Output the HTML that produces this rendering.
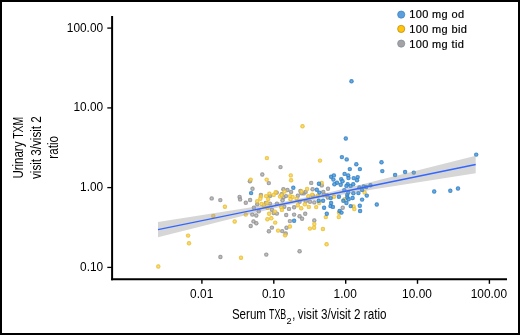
<!DOCTYPE html>
<html><head><meta charset="utf-8"><style>
html,body{margin:0;padding:0;background:#fff;}
.wrap{position:relative;width:516px;height:331px;border:2px solid #000;overflow:hidden;background:#fff;}
svg{position:absolute;left:-2px;top:-2px;will-change:transform;}
text{font-family:"Liberation Sans",sans-serif;fill:#000;}
.lg{font-size:11px;letter-spacing:0.35px;stroke:#000;stroke-width:0.2px;}
</style></head><body><div class="wrap">
<svg width="520" height="335" viewBox="0 0 520 335">
<defs><radialGradient id="gb"><stop offset="0" stop-color="#6aa8e0" stop-opacity="0.85"/><stop offset="0.45" stop-color="#3a8fd4" stop-opacity="0.88"/><stop offset="1" stop-color="#2a78be" stop-opacity="0.9"/></radialGradient><radialGradient id="gy"><stop offset="0" stop-color="#f8e08a" stop-opacity="0.85"/><stop offset="0.45" stop-color="#f3ca3e" stop-opacity="0.88"/><stop offset="1" stop-color="#e6b92a" stop-opacity="0.9"/></radialGradient><radialGradient id="gg"><stop offset="0" stop-color="#c4c4c4" stop-opacity="0.85"/><stop offset="0.45" stop-color="#a0a0a0" stop-opacity="0.88"/><stop offset="1" stop-color="#8a8a8a" stop-opacity="0.9"/></radialGradient></defs>
<g class="dots">
<circle cx="220.4" cy="257.0" r="2.2" fill="url(#gg)"/>
<circle cx="211.7" cy="198.4" r="2.2" fill="url(#gg)"/>
<circle cx="220.3" cy="200.1" r="2.2" fill="url(#gg)"/>
<circle cx="239.6" cy="196.9" r="2.2" fill="url(#gg)"/>
<circle cx="240.1" cy="199.4" r="2.2" fill="url(#gg)"/>
<circle cx="280.5" cy="167.1" r="2.2" fill="url(#gg)"/>
<circle cx="262.3" cy="174.5" r="2.2" fill="url(#gg)"/>
<circle cx="249.9" cy="181.2" r="2.2" fill="url(#gg)"/>
<circle cx="268.8" cy="183.1" r="2.2" fill="url(#gg)"/>
<circle cx="252.5" cy="188.8" r="2.2" fill="url(#gg)"/>
<circle cx="260.9" cy="194.9" r="2.2" fill="url(#gg)"/>
<circle cx="270.0" cy="195.9" r="2.2" fill="url(#gg)"/>
<circle cx="276.7" cy="192.6" r="2.2" fill="url(#gg)"/>
<circle cx="283.4" cy="189.2" r="2.2" fill="url(#gg)"/>
<circle cx="245.8" cy="202.8" r="2.2" fill="url(#gg)"/>
<circle cx="250.1" cy="200.0" r="2.2" fill="url(#gg)"/>
<circle cx="257.2" cy="204.2" r="2.2" fill="url(#gg)"/>
<circle cx="265.8" cy="203.0" r="2.2" fill="url(#gg)"/>
<circle cx="270.0" cy="203.6" r="2.2" fill="url(#gg)"/>
<circle cx="253.9" cy="207.7" r="2.2" fill="url(#gg)"/>
<circle cx="276.9" cy="203.6" r="2.2" fill="url(#gg)"/>
<circle cx="271.9" cy="209.7" r="2.2" fill="url(#gg)"/>
<circle cx="273.7" cy="213.1" r="2.2" fill="url(#gg)"/>
<circle cx="276.9" cy="213.6" r="2.2" fill="url(#gg)"/>
<circle cx="258.8" cy="211.3" r="2.2" fill="url(#gg)"/>
<circle cx="252.3" cy="214.6" r="2.2" fill="url(#gg)"/>
<circle cx="256.3" cy="215.5" r="2.2" fill="url(#gg)"/>
<circle cx="253.5" cy="221.4" r="2.2" fill="url(#gg)"/>
<circle cx="256.3" cy="223.2" r="2.2" fill="url(#gg)"/>
<circle cx="250.7" cy="226.0" r="2.2" fill="url(#gg)"/>
<circle cx="271.9" cy="227.6" r="2.2" fill="url(#gg)"/>
<circle cx="268.9" cy="231.2" r="2.2" fill="url(#gg)"/>
<circle cx="282.2" cy="231.1" r="2.2" fill="url(#gg)"/>
<circle cx="311.2" cy="182.9" r="2.2" fill="url(#gg)"/>
<circle cx="321.7" cy="185.4" r="2.2" fill="url(#gg)"/>
<circle cx="287.4" cy="190.0" r="2.2" fill="url(#gg)"/>
<circle cx="291.1" cy="191.9" r="2.2" fill="url(#gg)"/>
<circle cx="300.4" cy="191.0" r="2.2" fill="url(#gg)"/>
<circle cx="303.8" cy="193.4" r="2.2" fill="url(#gg)"/>
<circle cx="305.6" cy="191.9" r="2.2" fill="url(#gg)"/>
<circle cx="312.6" cy="189.2" r="2.2" fill="url(#gg)"/>
<circle cx="281.7" cy="194.3" r="2.2" fill="url(#gg)"/>
<circle cx="297.8" cy="195.8" r="2.2" fill="url(#gg)"/>
<circle cx="286.0" cy="196.1" r="2.2" fill="url(#gg)"/>
<circle cx="323.3" cy="192.0" r="2.2" fill="url(#gg)"/>
<circle cx="328.0" cy="188.8" r="2.2" fill="url(#gg)"/>
<circle cx="312.8" cy="195.4" r="2.2" fill="url(#gg)"/>
<circle cx="323.9" cy="194.6" r="2.2" fill="url(#gg)"/>
<circle cx="327.1" cy="195.3" r="2.2" fill="url(#gg)"/>
<circle cx="283.4" cy="197.5" r="2.2" fill="url(#gg)"/>
<circle cx="282.5" cy="200.3" r="2.2" fill="url(#gg)"/>
<circle cx="301.5" cy="193.2" r="2.2" fill="url(#gg)"/>
<circle cx="299.6" cy="201.8" r="2.2" fill="url(#gg)"/>
<circle cx="305.8" cy="201.2" r="2.2" fill="url(#gg)"/>
<circle cx="310.0" cy="201.8" r="2.2" fill="url(#gg)"/>
<circle cx="314.3" cy="202.4" r="2.2" fill="url(#gg)"/>
<circle cx="294.1" cy="207.3" r="2.2" fill="url(#gg)"/>
<circle cx="289.0" cy="208.9" r="2.2" fill="url(#gg)"/>
<circle cx="284.3" cy="206.7" r="2.2" fill="url(#gg)"/>
<circle cx="286.2" cy="215.0" r="2.2" fill="url(#gg)"/>
<circle cx="294.1" cy="214.6" r="2.2" fill="url(#gg)"/>
<circle cx="305.2" cy="213.8" r="2.2" fill="url(#gg)"/>
<circle cx="299.6" cy="216.2" r="2.2" fill="url(#gg)"/>
<circle cx="302.1" cy="218.7" r="2.2" fill="url(#gg)"/>
<circle cx="289.9" cy="221.1" r="2.2" fill="url(#gg)"/>
<circle cx="286.5" cy="227.7" r="2.2" fill="url(#gg)"/>
<circle cx="314.3" cy="220.4" r="2.2" fill="url(#gg)"/>
<circle cx="327.8" cy="197.5" r="2.2" fill="url(#gg)"/>
<circle cx="342.7" cy="207.7" r="2.2" fill="url(#gg)"/>
<circle cx="266.3" cy="254.6" r="2.2" fill="url(#gg)"/>
<circle cx="285.7" cy="233.5" r="2.2" fill="url(#gg)"/>
<circle cx="299.6" cy="251.2" r="2.2" fill="url(#gg)"/>
<circle cx="188.1" cy="235.6" r="2.2" fill="url(#gy)"/>
<circle cx="189.0" cy="243.3" r="2.2" fill="url(#gy)"/>
<circle cx="158.3" cy="266.5" r="2.2" fill="url(#gy)"/>
<circle cx="224.9" cy="206.7" r="2.2" fill="url(#gy)"/>
<circle cx="213.3" cy="216.0" r="2.2" fill="url(#gy)"/>
<circle cx="234.7" cy="221.5" r="2.2" fill="url(#gy)"/>
<circle cx="302.5" cy="126.3" r="2.2" fill="url(#gy)"/>
<circle cx="266.9" cy="158.1" r="2.2" fill="url(#gy)"/>
<circle cx="320.0" cy="160.6" r="2.2" fill="url(#gy)"/>
<circle cx="250.7" cy="179.6" r="2.2" fill="url(#gy)"/>
<circle cx="266.7" cy="179.6" r="2.2" fill="url(#gy)"/>
<circle cx="260.9" cy="196.4" r="2.2" fill="url(#gy)"/>
<circle cx="266.1" cy="196.1" r="2.2" fill="url(#gy)"/>
<circle cx="269.4" cy="193.7" r="2.2" fill="url(#gy)"/>
<circle cx="273.7" cy="194.9" r="2.2" fill="url(#gy)"/>
<circle cx="275.7" cy="192.3" r="2.2" fill="url(#gy)"/>
<circle cx="280.0" cy="196.6" r="2.2" fill="url(#gy)"/>
<circle cx="257.2" cy="201.2" r="2.2" fill="url(#gy)"/>
<circle cx="260.3" cy="198.7" r="2.2" fill="url(#gy)"/>
<circle cx="261.5" cy="204.0" r="2.2" fill="url(#gy)"/>
<circle cx="268.2" cy="199.1" r="2.2" fill="url(#gy)"/>
<circle cx="267.0" cy="203.0" r="2.2" fill="url(#gy)"/>
<circle cx="263.9" cy="205.5" r="2.2" fill="url(#gy)"/>
<circle cx="281.7" cy="195.1" r="2.2" fill="url(#gy)"/>
<circle cx="281.1" cy="206.9" r="2.2" fill="url(#gy)"/>
<circle cx="281.9" cy="209.9" r="2.2" fill="url(#gy)"/>
<circle cx="267.6" cy="207.9" r="2.2" fill="url(#gy)"/>
<circle cx="269.1" cy="213.8" r="2.2" fill="url(#gy)"/>
<circle cx="274.9" cy="211.6" r="2.2" fill="url(#gy)"/>
<circle cx="245.8" cy="214.6" r="2.2" fill="url(#gy)"/>
<circle cx="267.4" cy="219.2" r="2.2" fill="url(#gy)"/>
<circle cx="271.3" cy="218.3" r="2.2" fill="url(#gy)"/>
<circle cx="275.2" cy="222.6" r="2.2" fill="url(#gy)"/>
<circle cx="278.1" cy="230.6" r="2.2" fill="url(#gy)"/>
<circle cx="290.8" cy="175.4" r="2.2" fill="url(#gy)"/>
<circle cx="291.1" cy="180.3" r="2.2" fill="url(#gy)"/>
<circle cx="321.7" cy="183.0" r="2.2" fill="url(#gy)"/>
<circle cx="284.6" cy="191.5" r="2.2" fill="url(#gy)"/>
<circle cx="301.5" cy="191.5" r="2.2" fill="url(#gy)"/>
<circle cx="307.1" cy="188.9" r="2.2" fill="url(#gy)"/>
<circle cx="290.1" cy="196.1" r="2.2" fill="url(#gy)"/>
<circle cx="292.6" cy="196.9" r="2.2" fill="url(#gy)"/>
<circle cx="308.3" cy="196.3" r="2.2" fill="url(#gy)"/>
<circle cx="312.2" cy="194.6" r="2.2" fill="url(#gy)"/>
<circle cx="317.6" cy="195.8" r="2.2" fill="url(#gy)"/>
<circle cx="334.0" cy="196.7" r="2.2" fill="url(#gy)"/>
<circle cx="344.5" cy="199.2" r="2.2" fill="url(#gy)"/>
<circle cx="364.6" cy="192.5" r="2.2" fill="url(#gy)"/>
<circle cx="290.5" cy="199.3" r="2.2" fill="url(#gy)"/>
<circle cx="296.6" cy="198.7" r="2.2" fill="url(#gy)"/>
<circle cx="319.2" cy="203.0" r="2.2" fill="url(#gy)"/>
<circle cx="304.9" cy="204.2" r="2.2" fill="url(#gy)"/>
<circle cx="297.8" cy="205.2" r="2.2" fill="url(#gy)"/>
<circle cx="301.2" cy="208.2" r="2.2" fill="url(#gy)"/>
<circle cx="308.8" cy="206.9" r="2.2" fill="url(#gy)"/>
<circle cx="316.2" cy="207.1" r="2.2" fill="url(#gy)"/>
<circle cx="289.9" cy="226.5" r="2.2" fill="url(#gy)"/>
<circle cx="314.3" cy="224.1" r="2.2" fill="url(#gy)"/>
<circle cx="314.1" cy="227.7" r="2.2" fill="url(#gy)"/>
<circle cx="309.9" cy="228.6" r="2.2" fill="url(#gy)"/>
<circle cx="325.8" cy="217.1" r="2.2" fill="url(#gy)"/>
<circle cx="339.0" cy="212.8" r="2.2" fill="url(#gy)"/>
<circle cx="338.8" cy="217.1" r="2.2" fill="url(#gy)"/>
<circle cx="353.5" cy="206.4" r="2.2" fill="url(#gy)"/>
<circle cx="354.3" cy="209.1" r="2.2" fill="url(#gy)"/>
<circle cx="322.9" cy="229.0" r="2.2" fill="url(#gy)"/>
<circle cx="241.0" cy="257.7" r="2.2" fill="url(#gy)"/>
<circle cx="285.1" cy="235.3" r="2.2" fill="url(#gy)"/>
<circle cx="326.6" cy="244.3" r="2.2" fill="url(#gy)"/>
<circle cx="351.5" cy="81.3" r="2.2" fill="url(#gb)"/>
<circle cx="345.8" cy="138.5" r="2.2" fill="url(#gb)"/>
<circle cx="341.9" cy="157.1" r="2.2" fill="url(#gb)"/>
<circle cx="346.7" cy="159.4" r="2.2" fill="url(#gb)"/>
<circle cx="356.3" cy="164.2" r="2.2" fill="url(#gb)"/>
<circle cx="349.8" cy="169.1" r="2.2" fill="url(#gb)"/>
<circle cx="359.9" cy="169.1" r="2.2" fill="url(#gb)"/>
<circle cx="381.5" cy="162.3" r="2.2" fill="url(#gb)"/>
<circle cx="382.3" cy="171.1" r="2.2" fill="url(#gb)"/>
<circle cx="395.1" cy="175.0" r="2.2" fill="url(#gb)"/>
<circle cx="405.1" cy="172.0" r="2.2" fill="url(#gb)"/>
<circle cx="413.8" cy="172.6" r="2.2" fill="url(#gb)"/>
<circle cx="476.2" cy="154.6" r="2.2" fill="url(#gb)"/>
<circle cx="434.2" cy="191.5" r="2.2" fill="url(#gb)"/>
<circle cx="450.3" cy="190.8" r="2.2" fill="url(#gb)"/>
<circle cx="458.0" cy="188.5" r="2.2" fill="url(#gb)"/>
<circle cx="251.1" cy="193.1" r="2.2" fill="url(#gb)"/>
<circle cx="293.3" cy="187.8" r="2.2" fill="url(#gb)"/>
<circle cx="318.9" cy="183.7" r="2.2" fill="url(#gb)"/>
<circle cx="316.8" cy="189.8" r="2.2" fill="url(#gb)"/>
<circle cx="319.4" cy="192.6" r="2.2" fill="url(#gb)"/>
<circle cx="331.1" cy="176.7" r="2.2" fill="url(#gb)"/>
<circle cx="333.9" cy="175.4" r="2.2" fill="url(#gb)"/>
<circle cx="333.4" cy="179.6" r="2.2" fill="url(#gb)"/>
<circle cx="344.6" cy="173.9" r="2.2" fill="url(#gb)"/>
<circle cx="348.2" cy="175.4" r="2.2" fill="url(#gb)"/>
<circle cx="348.5" cy="178.1" r="2.2" fill="url(#gb)"/>
<circle cx="353.7" cy="178.1" r="2.2" fill="url(#gb)"/>
<circle cx="357.7" cy="177.1" r="2.2" fill="url(#gb)"/>
<circle cx="357.0" cy="180.2" r="2.2" fill="url(#gb)"/>
<circle cx="341.2" cy="179.1" r="2.2" fill="url(#gb)"/>
<circle cx="342.5" cy="181.2" r="2.2" fill="url(#gb)"/>
<circle cx="337.0" cy="182.8" r="2.2" fill="url(#gb)"/>
<circle cx="334.4" cy="184.3" r="2.2" fill="url(#gb)"/>
<circle cx="340.7" cy="184.8" r="2.2" fill="url(#gb)"/>
<circle cx="347.7" cy="184.3" r="2.2" fill="url(#gb)"/>
<circle cx="346.4" cy="185.9" r="2.2" fill="url(#gb)"/>
<circle cx="350.6" cy="185.9" r="2.2" fill="url(#gb)"/>
<circle cx="353.2" cy="184.3" r="2.2" fill="url(#gb)"/>
<circle cx="344.3" cy="190.1" r="2.2" fill="url(#gb)"/>
<circle cx="353.4" cy="193.3" r="2.2" fill="url(#gb)"/>
<circle cx="358.4" cy="193.1" r="2.2" fill="url(#gb)"/>
<circle cx="362.0" cy="189.9" r="2.2" fill="url(#gb)"/>
<circle cx="347.2" cy="194.9" r="2.2" fill="url(#gb)"/>
<circle cx="338.9" cy="196.7" r="2.2" fill="url(#gb)"/>
<circle cx="330.7" cy="198.1" r="2.2" fill="url(#gb)"/>
<circle cx="352.6" cy="198.0" r="2.2" fill="url(#gb)"/>
<circle cx="362.1" cy="199.6" r="2.2" fill="url(#gb)"/>
<circle cx="359.4" cy="187.4" r="2.2" fill="url(#gb)"/>
<circle cx="363.7" cy="186.4" r="2.2" fill="url(#gb)"/>
<circle cx="366.2" cy="187.0" r="2.2" fill="url(#gb)"/>
<circle cx="370.5" cy="185.2" r="2.2" fill="url(#gb)"/>
<circle cx="366.8" cy="195.6" r="2.2" fill="url(#gb)"/>
<circle cx="318.7" cy="200.8" r="2.2" fill="url(#gb)"/>
<circle cx="323.1" cy="200.8" r="2.2" fill="url(#gb)"/>
<circle cx="294.1" cy="220.8" r="2.2" fill="url(#gb)"/>
<circle cx="324.1" cy="207.7" r="2.2" fill="url(#gb)"/>
<circle cx="331.1" cy="203.0" r="2.2" fill="url(#gb)"/>
<circle cx="330.5" cy="206.1" r="2.2" fill="url(#gb)"/>
<circle cx="332.9" cy="206.9" r="2.2" fill="url(#gb)"/>
<circle cx="326.8" cy="213.8" r="2.2" fill="url(#gb)"/>
<circle cx="339.6" cy="211.0" r="2.2" fill="url(#gb)"/>
<circle cx="341.5" cy="212.6" r="2.2" fill="url(#gb)"/>
<circle cx="343.3" cy="200.8" r="2.2" fill="url(#gb)"/>
<circle cx="346.4" cy="203.0" r="2.2" fill="url(#gb)"/>
<circle cx="347.4" cy="197.5" r="2.2" fill="url(#gb)"/>
<circle cx="348.6" cy="199.3" r="2.2" fill="url(#gb)"/>
<circle cx="350.7" cy="206.1" r="2.2" fill="url(#gb)"/>
<circle cx="359.8" cy="205.7" r="2.2" fill="url(#gb)"/>
<circle cx="360.1" cy="211.0" r="2.2" fill="url(#gb)"/>
<circle cx="348.2" cy="192.6" r="2.2" fill="url(#gb)"/>
<circle cx="376.8" cy="204.5" r="2.2" fill="url(#gb)"/>
</g>
<path d="M158.00,222.10 L165.94,220.85 L173.88,219.60 L181.83,218.35 L189.77,217.09 L197.71,215.84 L205.66,214.58 L213.60,213.31 L221.54,212.04 L229.48,210.77 L237.43,209.48 L245.37,208.19 L253.31,206.88 L261.25,205.55 L269.19,204.20 L277.14,202.81 L285.08,201.39 L293.02,199.90 L300.96,198.35 L308.91,196.72 L316.85,195.01 L324.79,193.24 L332.74,191.41 L340.68,189.53 L348.62,187.62 L356.56,185.69 L364.50,183.74 L372.45,181.78 L380.39,179.80 L388.33,177.82 L396.27,175.83 L404.22,173.83 L412.16,171.83 L420.10,169.83 L428.04,167.83 L435.99,165.82 L443.93,163.81 L451.87,161.80 L459.81,159.78 L467.76,157.77 L475.70,155.75 L475.70,173.25 L467.76,174.49 L459.81,175.74 L451.87,176.98 L443.93,178.23 L435.99,179.48 L428.04,180.73 L420.10,181.99 L412.16,183.25 L404.22,184.51 L396.27,185.77 L388.33,187.04 L380.39,188.32 L372.45,189.60 L364.50,190.90 L356.56,192.21 L348.62,193.54 L340.68,194.89 L332.74,196.27 L324.79,197.70 L316.85,199.19 L308.91,200.74 L300.96,202.37 L293.02,204.08 L285.08,205.85 L277.14,207.69 L269.19,209.56 L261.25,211.47 L253.31,213.40 L245.37,215.35 L237.43,217.32 L229.48,219.29 L221.54,221.28 L213.60,223.27 L205.66,225.26 L197.71,227.26 L189.77,229.27 L181.83,231.27 L173.88,233.28 L165.94,235.29 L158.00,237.30 Z" fill="#999" fill-opacity="0.4"/>
<line x1="158.0" y1="229.7" x2="475.7" y2="164.5" stroke="#3366ff" stroke-width="1.3"/>
<line x1="112.1" y1="15.9" x2="112.1" y2="280.2" stroke="#000" stroke-width="2"/>
<line x1="111.1" y1="279.2" x2="507" y2="279.2" stroke="#000" stroke-width="2"/>
<line x1="107.3" y1="28.1" x2="112" y2="28.1" stroke="#000" stroke-width="1.3"/>
<text transform="translate(66.76,31.60) scale(0.9754,1)" font-size="12.2" class="tk" >100.00</text>
<line x1="107.3" y1="107.9" x2="112" y2="107.9" stroke="#000" stroke-width="1.3"/>
<text transform="translate(73.43,111.40) scale(0.9754,1)" font-size="12.2" class="tk" >10.00</text>
<line x1="107.3" y1="187.6" x2="112" y2="187.6" stroke="#000" stroke-width="1.3"/>
<text transform="translate(80.03,191.10) scale(0.9754,1)" font-size="12.2" class="tk" >1.00</text>
<line x1="107.3" y1="267.4" x2="112" y2="267.4" stroke="#000" stroke-width="1.3"/>
<text transform="translate(80.03,270.90) scale(0.9754,1)" font-size="12.2" class="tk" >0.10</text>
<line x1="201.9" y1="279" x2="201.9" y2="283.8" stroke="#000" stroke-width="1.4"/>
<text transform="translate(190.09,298.30) scale(0.9754,1)" font-size="12.2" class="tk" >0.01</text>
<line x1="273.8" y1="279" x2="273.8" y2="283.8" stroke="#000" stroke-width="1.4"/>
<text transform="translate(261.93,298.30) scale(0.9754,1)" font-size="12.2" class="tk" >0.10</text>
<line x1="345.7" y1="279" x2="345.7" y2="283.8" stroke="#000" stroke-width="1.4"/>
<text transform="translate(333.62,298.30) scale(0.9754,1)" font-size="12.2" class="tk" >1.00</text>
<line x1="417.5" y1="279" x2="417.5" y2="283.8" stroke="#000" stroke-width="1.4"/>
<text transform="translate(402.12,298.30) scale(0.9754,1)" font-size="12.2" class="tk" >10.00</text>
<line x1="489.4" y1="279" x2="489.4" y2="283.8" stroke="#000" stroke-width="1.4"/>
<text transform="translate(470.68,298.30) scale(0.9754,1)" font-size="12.2" class="tk" >100.00</text>
<circle cx="401.2" cy="14.6" r="3.6" fill="#5a9fdc" stroke="#3a7fc0" stroke-width="0.7"/>
<text x="409.3" y="18.4" class="lg">100 mg od</text>
<circle cx="401.2" cy="28.9" r="3.6" fill="#ffc20e" stroke="#b08a10" stroke-width="0.7"/>
<text x="409.3" y="33.1" class="lg">100 mg bid</text>
<circle cx="401.2" cy="43.6" r="3.6" fill="#a3a3a3" stroke="#7e8a9a" stroke-width="0.7"/>
<text x="409.3" y="47.7" class="lg">100 mg tid</text>
<g transform="translate(0,295) rotate(-90)"><text transform="translate(116.44,23.10) scale(0.8027,1)" font-size="14.3" class="ti" >Urinary</text><text transform="translate(156.24,23.10) scale(0.7289,1)" font-size="14.3" class="ti" >TXM</text><text transform="translate(116.04,40.60) scale(0.8153,1)" font-size="14.3" class="ti" >visit 3/visit 2</text><text transform="translate(136.24,57.60) scale(0.8209,1)" font-size="14.3" class="ti" >ratio</text></g>
<text transform="translate(231.88,318.50) scale(0.8105,1)" font-size="14.3" class="ti" >Serum</text>
<text transform="translate(268.98,318.50) scale(0.6208,1)" font-size="14.3" class="ti" >TXB</text>
<text transform="translate(286.54,323.60) scale(1.0989,1)" font-size="8.4" class="ti" >2</text>
<text transform="translate(292.2,318.5) scale(0.8,1)" font-size="13.8" class="ti">,</text>
<text transform="translate(297.64,318.50) scale(0.8172,1)" font-size="14.3" class="ti" >visit 3/visit 2 ratio</text>
</svg></div></body></html>
